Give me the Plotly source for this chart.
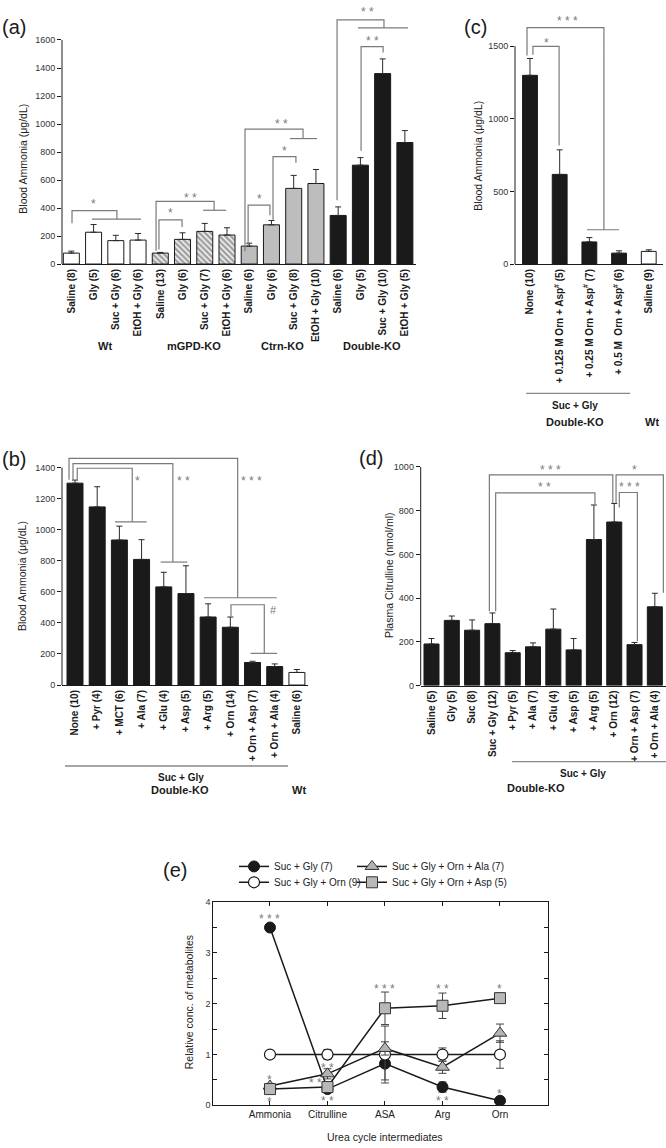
import plotly.graph_objects as go

W, H = 666, 1148
FONT = "Liberation Sans, Arial, Helvetica, sans-serif"
INK = "#1a1a1a"
GREY = "#7a7a7a"

def xpx(p):
    return p / W

def ypx(p):
    return 1 - p / H

# ---------------- data: panel (a) ----------------
a_labels = ["Saline (8)", "Gly (5)", "Suc + Gly (6)", "EtOH + Gly (6)",
            "Saline (13)", "Gly (6)", "Suc + Gly (7)", "EtOH + Gly (6)",
            "Saline (6)", "Gly (6)", "Suc + Gly (8)", "EtOH + Gly (10)",
            "Saline (6)", "Gly (5)", "Suc + Gly (10)", "EtOH + Gly (5)"]
a_values = [78, 227, 167, 171, 78, 176, 233, 207, 128, 280, 540, 575, 347, 706, 1360, 868]
a_errors = [14, 55, 38, 47, 5, 47, 57, 52, 21, 31, 93, 100, 61, 54, 105, 85]
a_groups = ["Wt", "mGPD-KO", "Ctrn-KO", "Double-KO"]
a_yticks = [0, 200, 400, 600, 800, 1000, 1200, 1400, 1600]

# ---------------- data: panel (c) ----------------
c_labels = ["None (10)", "+ 0.125 M Orn + Asp<sup>#</sup> (5)", "+ 0.25 M Orn + Asp<sup>#</sup> (7)",
            "+ 0.5 M  Orn + Asp<sup>#</sup> (6)", "Saline (9)"]
c_values = [1299, 617, 152, 75, 87]
c_errors = [116, 169, 30, 16, 11]
c_yticks = [0, 500, 1000, 1500]

# ---------------- data: panel (b) ----------------
b_labels = ["None (10)", "+ Pyr (4)", "+ MCT (6)", "+ Ala (7)", "+ Glu (4)", "+ Asp (5)",
            "+ Arg (5)", "+ Orn (14)", "+ Orn + Asp (7)", "+ Orn + Ala (4)", "Saline (6)"]
b_values = [1300, 1147, 934, 809, 632, 589, 438, 372, 145, 119, 81]
b_errors = [20, 130, 89, 127, 94, 179, 85, 66, 8, 17, 19]
b_yticks = [0, 200, 400, 600, 800, 1000, 1200, 1400]

# ---------------- data: panel (d) ----------------
d_labels = ["Saline (5)", "Gly (5)", "Suc (8)", "Suc + Gly (12)", "+ Pyr (5)", "+ Ala (7)",
            "+ Glu (4)", "+ Asp (5)", "+ Arg (5)", "+ Orn (12)", "+ Orn + Asp (7)", "+ Orn + Ala (4)"]
d_values = [190, 298, 253, 283, 150, 177, 258, 163, 668, 748, 187, 360]
d_errors = [25, 20, 47, 49, 10, 18, 92, 52, 158, 85, 10, 62]
d_yticks = [0, 200, 400, 600, 800, 1000]

# ---------------- data: panel (e) ----------------
e_categories = ["Ammonia", "Citrulline", "ASA", "Arg", "Orn"]
e_suc_gly = [3.5, 0.32, 0.82, 0.36, 0.09]
e_suc_gly_err = [0.0, 0.05, 0.32, 0.10, 0.03]
e_orn = [1.0, 1.0, 1.0, 1.0, 1.0]
e_orn_err = [0.0, 0.10, 0.56, 0.13, 0.27]
e_ala = [0.38, 0.62, 1.12, 0.75, 1.42]
e_ala_err = [0.05, 0.10, 0.13, 0.12, 0.18]
e_asp = [0.32, 0.36, 1.91, 1.96, 2.11]
e_asp_err = [0.03, 0.05, 0.32, 0.25, 0.05]
e_yticks = [0, 1, 2, 3, 4]

# significance brackets: (x_left, y_left_start, y_top, x_right, y_right_end, span, label, label_x, label_y)
a_brackets = [
    (0.03, 292, 382, 2.05, 321, (0.93, 3.13), "*", 0.98, 448),
    (3.94, 103, 316, 4.98, 264, None, "*", 4.44, 384),
    (3.81, 94, 448, 6.42, 384, (5.92, 6.96), "* *", 5.38, 490),
    (7.95, 128, 420, 8.93, 349, None, "*", 8.44, 483),
    (9.07, 316, 767, 10.10, 724, None, "*", 9.60, 830),
    (7.81, 92, 963, 10.42, 896, (9.83, 11.05), "* *", 9.43, 1021),
    (11.95, 455, 1744, 14.06, 1687, (12.89, 15.14), "* *", 13.30, 1822),
    (13.03, 809, 1552, 14.02, 1510, None, "* *", 13.56, 1616),
]
c_brackets = [
    (-0.10, 1435, 1628, 2.49, 236, (1.92, 3.0), "* * *", 1.25, 1697),
    (0.10, 1440, 1499, 0.98, 816, None, "*", 0.57, 1540),
]
b_brackets = [
    (-0.27, 1322, 1460, 7.33, 562, (5.81, 9.09), "* * *", 7.97, 1336),
    (-0.09, 1322, 1426, 4.41, 792, (3.86, 5.06), "* *", 4.91, 1336),
    (0.10, 1322, 1396, 2.58, 1051, (1.80, 3.23), "*", 2.81, 1336),
    (7.03, 440, 517, 8.53, 204, (7.91, 9.11), "#", 8.93, 485),
]
d_brackets = [
    (2.85, 340, 964, 8.93, 835, None, "* * *", 5.84, 1000),
    (3.16, 340, 881, 8.05, 831, None, "* *", 5.59, 921),
    (9.09, 835, 964, 11.42, 424, None, "*", 9.99, 1000),
    (9.25, 815, 883, 10.14, 202, None, "* * *", 9.74, 921),
]
e_stars = [(0, 3.72, "* * *"), (0, 0.56, "*"), (0, 0.13, "*"),
           (0.8, 0.49, "* *"), (1, 0.80, "* *"), (1, 0.15, "* *"),
           (2, 2.34, "* * *"), (3, 2.34, "* *"), (3, 0.15, "* *"),
           (4, 2.34, "*"), (4, 0.29, "*")]

fig = go.Figure()
shapes = []
annos = []

def err(arr):
    return dict(type="data", symmetric=False, array=arr, arrayminus=[0] * len(arr),
                color="#2a2a2a", thickness=1, width=3)

# ---- panel (a) bars
a_colors = ["white"] * 8 + ["#bdbdbd"] * 4 + [INK] * 4
a_patterns = [""] * 4 + ["\\"] * 4 + [""] * 8
fig.add_trace(go.Bar(x=list(range(len(a_values))), y=a_values, width=0.72,
                     marker=dict(color=a_colors, line=dict(color=INK, width=1),
                                 pattern=dict(shape=a_patterns, fgcolor="#000", size=4, solidity=0.65)),
                     error_y=err(a_errors), xaxis="x", yaxis="y", showlegend=False))
# ---- panel (c)
c_colors = [INK] * 4 + ["white"]
fig.add_trace(go.Bar(x=list(range(len(c_values))), y=c_values, width=0.5,
                     marker=dict(color=c_colors, line=dict(color=INK, width=1)),
                     error_y=err(c_errors), xaxis="x2", yaxis="y2", showlegend=False))
# ---- panel (b)
b_colors = [INK] * 10 + ["white"]
fig.add_trace(go.Bar(x=list(range(len(b_values))), y=b_values, width=0.72,
                     marker=dict(color=b_colors, line=dict(color=INK, width=1)),
                     error_y=err(b_errors), xaxis="x3", yaxis="y3", showlegend=False))
# ---- panel (d)
fig.add_trace(go.Bar(x=list(range(len(d_values))), y=d_values, width=0.74,
                     marker=dict(color=INK, line=dict(color=INK, width=1)),
                     error_y=err(d_errors), xaxis="x4", yaxis="y4", showlegend=False))

# ---- panel (e) lines
ex = list(range(len(e_categories)))
def e_err(arr):
    return dict(type="data", array=arr, color="#444", thickness=1, width=4)

fig.add_trace(go.Scatter(x=ex, y=e_suc_gly, mode="lines+markers", name="Suc + Gly (7)",
                         line=dict(color=INK, width=1.5),
                         marker=dict(symbol="circle", size=11, color=INK, line=dict(color=INK, width=1)),
                         error_y=e_err(e_suc_gly_err), xaxis="x5", yaxis="y5", legend="legend"))
fig.add_trace(go.Scatter(x=ex, y=e_orn, mode="lines+markers", name="Suc + Gly + Orn (9)",
                         line=dict(color=INK, width=1.5),
                         marker=dict(symbol="circle", size=11, color="white", line=dict(color=INK, width=1.2)),
                         error_y=e_err(e_orn_err), xaxis="x5", yaxis="y5", legend="legend2"))
fig.add_trace(go.Scatter(x=ex, y=e_ala, mode="lines+markers", name="Suc + Gly + Orn + Ala (7)",
                         line=dict(color=INK, width=1.5),
                         marker=dict(symbol="triangle-up", size=12, color="#b3b3b3", line=dict(color="#333", width=1)),
                         error_y=e_err(e_ala_err), xaxis="x5", yaxis="y5", legend="legend3"))
fig.add_trace(go.Scatter(x=ex, y=e_asp, mode="lines+markers", name="Suc + Gly + Orn + Asp (5)",
                         line=dict(color=INK, width=1.5),
                         marker=dict(symbol="square", size=11, color="#b8b8b8", line=dict(color="#333", width=1)),
                         error_y=e_err(e_asp_err), xaxis="x5", yaxis="y5", legend="legend4"))

# ---- brackets
def add_brackets(brs, xr, yr):
    for (xl, yl0, yt, xrr, yr0, span, lab, lx, ly) in brs:
        shapes.append(dict(type="path", xref=xr, yref=yr, layer="above",
                           path=f"M {xl},{yl0} L {xl},{yt} L {xrr},{yt} L {xrr},{yr0}",
                           line=dict(color=GREY, width=1.2)))
        if span:
            shapes.append(dict(type="line", xref=xr, yref=yr, layer="above",
                               x0=span[0], x1=span[1], y0=yr0, y1=yr0,
                               line=dict(color=GREY, width=1.2)))
        annos.append(dict(x=lx, y=ly, xref=xr, yref=yr, text=lab, showarrow=False,
                          xanchor="center", yanchor="middle",
                          font=dict(family=FONT, size=12 if lab != "#" else 11, color=GREY),
                          yshift=-3 if lab != "#" else 0))

add_brackets(a_brackets, "x", "y")
add_brackets(c_brackets, "x2", "y2")
add_brackets(b_brackets, "x3", "y3")
add_brackets(d_brackets, "x4", "y4")

for (sx, sy, st) in e_stars:
    annos.append(dict(x=sx, y=sy, xref="x5", yref="y5", text=st, showarrow=False,
                      xanchor="center", yanchor="middle",
                      font=dict(family=FONT, size=12, color=GREY), yshift=-3))

# ---- y-axis lines (only up to the top tick)
for ax, top in (("y", a_yticks[-1]), ("y2", c_yticks[-1]), ("y3", b_yticks[-1]), ("y4", d_yticks[-1])):
    xd = "x domain" if ax == "y" else "x" + ax[1:] + " domain"
    shapes.append(dict(type="line", xref=xd, yref=ax, x0=0, x1=0, y0=0, y1=top,
                       line=dict(color=INK, width=1), layer="above"))

# ---- group labels / lines
def glabel(x, xr, ypix, text, size=11, bold=True):
    annos.append(dict(x=x, y=ypx(ypix), xref=xr, yref="paper", text=f"<b>{text}</b>" if bold else text,
                      xanchor="center", yanchor="middle",
                      showarrow=False, font=dict(family=FONT, size=size, color=INK)))

def gline(x0, x1, xr, ypix):
    shapes.append(dict(type="line", xref=xr, yref="paper", x0=x0, x1=x1, y0=ypx(ypix), y1=ypx(ypix),
                       line=dict(color="#888", width=1.3)))

for gx, g in zip([1.5, 5.5, 9.5, 13.5], a_groups):
    glabel(gx, "x", 344, g)

gline(-0.13, 3.37, "x2", 391.7)
glabel(1.5, "x2", 404, "Suc + Gly", size=10)
glabel(1.5, "x2", 421, "Double-KO")
glabel(4.1, "x2", 421, "Wt")

gline(-0.45, 9.6, "x3", 767.7)
glabel(4.76, "x3", 779, "Suc + Gly", size=10)
glabel(4.73, "x3", 792, "Double-KO")
glabel(10.1, "x3", 792, "Wt")

gline(3.97, 11.55, "x4", 763.3)
glabel(7.46, "x4", 775, "Suc + Gly", size=10)
glabel(5.15, "x4", 790, "Double-KO")

# ---- axis titles and panel labels
def title(xp, yp, text, angle=-90):
    annos.append(dict(x=xpx(xp), y=ypx(yp), xref="paper", yref="paper", text=text, textangle=angle,
                      xanchor="center", yanchor="middle",
                      showarrow=False, font=dict(family=FONT, size=10.5, color="#222")))

title(23, 155, "Blood Ammonia (μg/dL)")
title(478, 152, "Blood Ammonia (μg/dL)")
title(22, 576, "Blood Ammonia (μg/dL)")
title(389, 576, "Plasma Citrulline (nmol/ml)")
title(189, 1006, "Relative conc. of metabolites")
annos.append(dict(x=2, y=ypx(1142), xref="x5", yref="paper", text="Urea cycle intermediates",
                  xanchor="center", yanchor="middle",
                  showarrow=False, font=dict(family=FONT, size=10.5, color="#222")))

for lab, xp, yp in (("(a)", 0, 22), ("(c)", 462, 22), ("(b)", 0, 458), ("(d)", 357, 457), ("(e)", 161, 873)):
    annos.append(dict(x=xpx(xp), y=ypx(yp), xref="paper", yref="paper", text=lab,
                      xanchor="left", yanchor="middle",
                      showarrow=False, font=dict(family=FONT, size=20, color=INK)))

# ---- axes
def xbar(domain, rng, labels, anchor):
    return dict(domain=domain, range=rng, anchor=anchor, tickmode="array",
                tickvals=list(range(len(labels))),
                ticktext=labels, tickangle=-90, ticks="", showline=True, linecolor=INK, linewidth=1,
                showgrid=False, zeroline=False,
                tickfont=dict(family=FONT, size=10, color=INK, weight="bold"))

def ybar(domain, rng, ticks, anchor):
    return dict(domain=domain, range=rng, anchor=anchor, tickmode="array", tickvals=ticks, ticks="outside",
                ticklen=4, tickcolor=INK, showline=False, showgrid=False, zeroline=False,
                tickfont=dict(family=FONT, size=9, color="#333"))

def leg(xp, yp):
    return dict(x=xpx(xp), y=ypx(yp), xanchor="left", yanchor="middle", bgcolor="rgba(0,0,0,0)",
                font=dict(family=FONT, size=10, color="#222"), itemwidth=30)

fig.update_layout(
    width=W, height=H, margin=dict(l=0, r=0, t=0, b=0),
    paper_bgcolor="white", plot_bgcolor="white",
    font=dict(family=FONT, color=INK),
    barmode="overlay",
    xaxis=xbar([xpx(62), xpx(416)], [-0.42, 15.5], a_labels, "y"),
    yaxis=ybar([ypx(261.3), 1], [0, 261.3 / 0.14125], a_yticks, "x"),
    xaxis2=xbar([xpx(515), xpx(663)], [-0.505, 4.48], c_labels, "y2"),
    yaxis2=ybar([ypx(261.3), 1], [0, 261.3 / 0.14653], c_yticks, "x2"),
    xaxis3=xbar([xpx(62), xpx(308)], [-0.586, 10.5], b_labels, "y3"),
    yaxis3=ybar([ypx(686), ypx(450)], [0, (686 - 450) / 0.15664], b_yticks, "x3"),
    xaxis4=xbar([xpx(420.7), 1], [-0.532, 11.55], d_labels, "y4"),
    yaxis4=ybar([ypx(686.5), ypx(450)], [0, (686.5 - 450) / 0.2205], d_yticks, "x4"),
    xaxis5=dict(domain=[xpx(213.3), xpx(548)], range=[-0.986, 4.835], anchor="y5", tickmode="array",
                tickvals=ex, ticktext=e_categories, ticks="inside", ticklen=4, tickcolor=INK,
                showline=True, mirror="ticks", linecolor=INK, linewidth=1, showgrid=False, zeroline=False,
                tickfont=dict(family=FONT, size=10, color="#222")),
    yaxis5=dict(domain=[ypx(1110), ypx(905)], range=[0, 4], anchor="x5", tickmode="array", tickvals=e_yticks,
                ticks="inside", ticklen=4, tickcolor=INK, showline=True, mirror="ticks", linecolor=INK,
                linewidth=1, showgrid=False, zeroline=False,
                minor=dict(ticks="inside", dtick=0.5, tick0=0, ticklen=4, tickcolor=INK, showgrid=False),
                tickfont=dict(family=FONT, size=9, color="#333")),
    legend=leg(234, 869),
    legend2=leg(234, 885),
    legend3=leg(352, 869),
    legend4=leg(352, 885),
    shapes=shapes, annotations=annos,
)

fig.write_html("out.html", config={"displayModeBar": False},
               post_script="document.body.style.margin='0';document.body.style.overflow='hidden';")
